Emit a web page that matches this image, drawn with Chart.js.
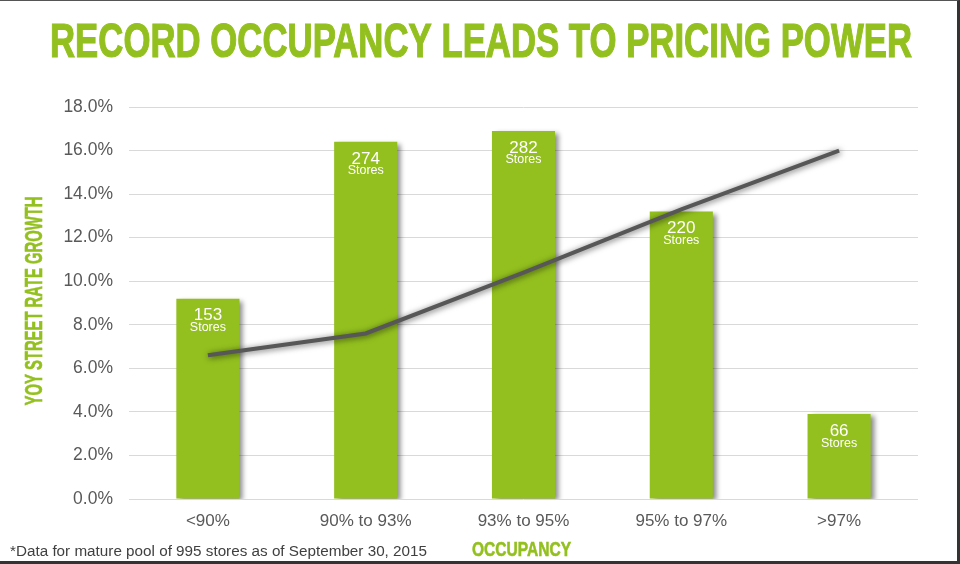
<!DOCTYPE html>
<html>
<head>
<meta charset="utf-8">
<script src="https://cdn.jsdelivr.net/npm/chart.js@4.4.0/dist/chart.umd.min.js"></script>
<style>
  html, body { margin: 0; padding: 0; background: #fff; }
  #wrap { position: relative; width: 960px; height: 564px; }
  #frame {
    position: absolute; left: 0; top: 0; width: 960px; height: 564px;
    box-sizing: border-box; pointer-events: none;
    border-top: 1px solid #555; border-right: 3px solid #333; border-bottom: 3px solid #333;
  }
</style>
</head>
<body>
<div id="wrap">
  <canvas id="chart" width="960" height="564"></canvas>
  <div id="frame"></div>
</div>
<script>
// data
const categories = ['<90%', '90% to 93%', '93% to 95%', '95% to 97%', '>97%'];
const barValues = [9.2, 16.4, 16.9, 13.2, 3.9];
const storeCounts = [153, 274, 282, 220, 66];
const lineValues = [6.6, 7.6, 10.4, 13.3, 16.0];

const titleText = 'RECORD OCCUPANCY LEADS TO PRICING POWER';
const yTitleText = 'YOY STREET RATE GROWTH';
const xTitleText = 'OCCUPANCY';
const footnoteText = '*Data for mature pool of 995 stores as of September 30, 2015';

const GREEN = '#93c01f';
const GREY_TXT = '#595959';

// draw text squeezed to a given width (condensed look)
function fitText(ctx, text, x, y, width, font, color, rotate, stroke) {
    ctx.save();
    ctx.font = font;
    ctx.fillStyle = color;
    ctx.textAlign = 'center';
    ctx.textBaseline = 'alphabetic';
    const w = ctx.measureText(text).width;
    ctx.translate(x, y);
    if (rotate) ctx.rotate(-Math.PI / 2);
    ctx.scale(width / w, 1);
    ctx.fillText(text, 0, 0);
    if (stroke) {
        ctx.strokeStyle = color;
        ctx.lineWidth = stroke;
        ctx.strokeText(text, 0, 0);
    }
    ctx.restore();
}

const shadowPlugin = {
    id: 'shadows',
    beforeDatasetDraw(chart, args) {
        const ctx = chart.ctx;
        ctx.save();
        if (args.meta.type === 'bar') {
            ctx.shadowColor = 'rgba(0,0,0,0.45)';
            ctx.shadowBlur = 5;
            ctx.shadowOffsetX = 4;
            ctx.shadowOffsetY = 2;
        } else {
            ctx.shadowColor = 'rgba(0,0,0,0.6)';
            ctx.shadowBlur = 6;
            ctx.shadowOffsetX = 1;
            ctx.shadowOffsetY = 1;
        }
    },
    afterDatasetDraw(chart, args) {
        const ctx = chart.ctx;
        ctx.restore();
        if (args.meta.type !== 'bar') return;
        // store counts inside the bars
        ctx.save();
        ctx.fillStyle = '#fff';
        ctx.textAlign = 'center';
        ctx.textBaseline = 'middle';
        args.meta.data.forEach((bar, i) => {
            ctx.font = '17px "Liberation Sans", Arial, sans-serif';
            ctx.fillText(String(storeCounts[i]), bar.x, bar.y + 17);
            ctx.font = '12.5px "Liberation Sans", Arial, sans-serif';
            ctx.fillText('Stores', bar.x, bar.y + 29);
        });
        ctx.restore();
    }
};

const textPlugin = {
    id: 'texts',
    afterDraw(chart) {
        const ctx = chart.ctx;
        const area = chart.chartArea;
        fitText(ctx, titleText, 481, 57, 862, 'bold 49px "Liberation Sans Narrow", "Liberation Sans", Arial, sans-serif', GREEN, false, 1.2);
        fitText(ctx, yTitleText, 42, 301, 209, 'bold 23px "Liberation Sans Narrow", "Liberation Sans", Arial, sans-serif', GREEN, true, 0.6);
        fitText(ctx, xTitleText, (area.left + area.right) / 2 - 2, 556, 99, 'bold 21px "Liberation Sans Narrow", "Liberation Sans", Arial, sans-serif', GREEN, false, 0.6);
        ctx.save();
        ctx.font = '14px "Liberation Sans", Arial, sans-serif';
        ctx.fillStyle = '#404040';
        ctx.textAlign = 'left';
        const w = ctx.measureText(footnoteText).width;
        ctx.translate(10, 556);
        ctx.scale(417 / w, 1);
        ctx.fillText(footnoteText, 0, 0);
        ctx.restore();
    }
};

const ctx = document.getElementById('chart').getContext('2d');
const chart = new Chart(ctx, {
    data: {
        labels: categories,
        datasets: [{
            type: 'line',
            label: 'YoY street rate growth',
            data: lineValues,
            borderColor: '#575757',
            borderWidth: 4,
            pointRadius: 0,
            tension: 0,
            fill: false,
            order: 0
        }, {
            type: 'bar',
            label: 'Stores',
            data: barValues,
            backgroundColor: GREEN,
            barPercentage: 0.4,
            categoryPercentage: 1.0,
            order: 1
        }]
    },
    options: {
        responsive: false,
        animation: false,
        layout: { padding: { left: 0, right: 42, top: 107, bottom: 0 } },
        plugins: {
            legend: { display: false },
            tooltip: { enabled: false }
        },
        scales: {
            x: {
                grid: { display: false, drawTicks: false },
                border: { display: false },
                ticks: {
                    color: GREY_TXT,
                    padding: 12,
                    font: { family: '"Liberation Sans", Arial, sans-serif', size: 17 }
                },
                afterFit(s) { s.height = 65; }
            },
            y: {
                min: 0,
                max: 18,
                grid: { color: '#d9d9d9', lineWidth: 1, drawTicks: false },
                border: { display: false },
                ticks: {
                    stepSize: 2,
                    color: GREY_TXT,
                    padding: 16,
                    font: { family: '"Liberation Sans", Arial, sans-serif', size: 17.5 },
                    callback: (v) => v.toFixed(1) + '%'
                },
                afterFit(s) { s.width = 129; }
            }
        }
    },
    plugins: [shadowPlugin, textPlugin]
});
</script>
</body>
</html>
